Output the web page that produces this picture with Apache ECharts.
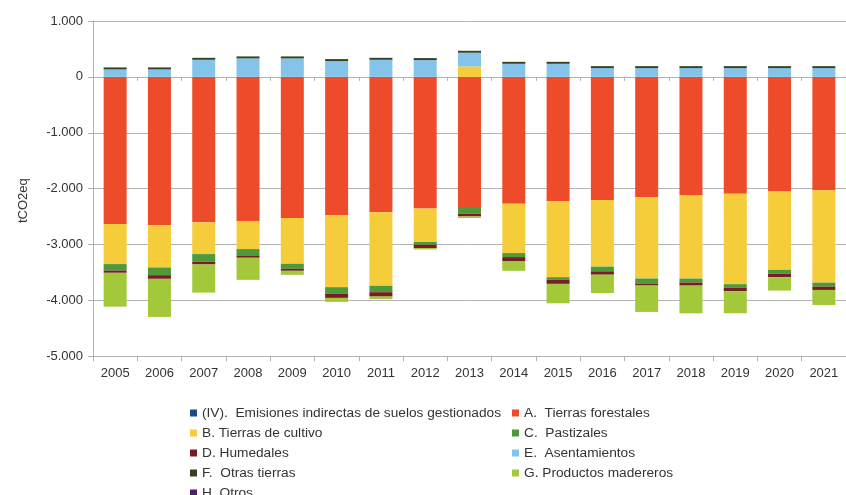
<!DOCTYPE html>
<html>
<head>
<meta charset="utf-8">
<script src="https://cdn.jsdelivr.net/npm/echarts@6/dist/echarts.min.js"></script>
<style>
html,body{margin:0;padding:0;background:#fff;}
#chart{width:846px;height:495px;}
</style>
</head>
<body>
<div id="chart"></div>
<script>
var years = ['2005','2006','2007','2008','2009','2010','2011','2012','2013','2014','2015','2016','2017','2018','2019','2020','2021'];
var yTicks = [-5000,-4000,-3000,-2000,-1000,0,1000];

var sIV = [0,0,0,0,0,0,0,0,0,0,0,0,0,0,0,0,0];
var sA  = [-2632,-2657,-2603,-2578,-2524,-2478,-2424,-2357,-2327,-2268,-2226,-2205,-2154,-2124,-2093,-2052,-2029];
var sB  = [-718,-754,-568,-503,-820,-1285,-1316,-598,187,-885,-1358,-1190,-1454,-1485,-1616,-1400,-1652];
var sC  = [-115,-137,-138,-115,-90,-115,-113,-48,-120,-72,-48,-85,-90,-72,-66,-72,-72];
var sD  = [-41,-66,-48,-41,-36,-77,-78,-60,-50,-78,-72,-60,-36,-54,-60,-60,-60];
var sE  = [134,134,306,331,331,283,306,301,245,234,234,157,157,157,157,157,157];
var sF  = [35,35,35,35,35,35,35,35,35,35,35,35,35,35,35,35,35];
var sG  = [-606,-682,-503,-395,-72,-72,-47,-25,-29,-167,-347,-328,-472,-496,-395,-240,-269];
var sH  = [0,0,0,0,0,0,0,0,0,0,0,0,0,0,0,0,0];

var names = ['(IV).  Emisiones indirectas de suelos gestionados','A.  Tierras forestales','B. Tierras de cultivo','C.  Pastizales','D. Humedales','E.  Asentamientos','F.  Otras tierras','G. Productos madereros','H. Otros'];
var colors = ['#1e4a8c','#ee4b2b','#f5cd3a','#4e9a3a','#7a1c24','#84c3ea','#34421f','#a3c83a','#4b1f6f'];
var values = [sIV,sA,sB,sC,sD,sE,sF,sG,sH];

function fmt(v){
  var s = Math.abs(v).toString();
  var out = s.replace(/\B(?=(\d{3})+(?!\d))/g, '.');
  return (v < 0 ? '-' : '') + out;
}

var FONT = 'Liberation Sans';
var series = values.map(function(arr, i){
  return {
    name: names[i], type: 'bar', stack: 'total', data: arr,
    xAxisIndex: 0, barWidth: 23,
    itemStyle: {color: colors[i]}
  };
});

var legendText = {color: '#333333', fontFamily: FONT, fontSize: 13.7, lineHeight: 14};

var chart = echarts.init(document.getElementById('chart'), null, {renderer:'canvas'});
chart.setOption({
  animation: false,
  backgroundColor: '#ffffff',
  color: colors,
  grid: {left: 93, top: 21, width: 760, height: 335.3, containLabel: false},
  xAxis: [{
    type: 'category', data: years, position: 'bottom',
    axisLine: {onZero: false, lineStyle: {color: '#b3b3b3', width: 1}},
    axisTick: {show: true, length: 5, lineStyle: {color: '#b3b3b3'}},
    axisLabel: {color: '#333333', fontFamily: FONT, fontSize: 13, margin: 11},
    splitLine: {show: false}
  },{
    type: 'category', data: years, position: 'bottom',
    axisLine: {show: true, onZero: true, lineStyle: {color: '#b3b3b3', width: 1}},
    axisTick: {show: true, length: 4, lineStyle: {color: '#b3b3b3'}},
    axisLabel: {show: false},
    splitLine: {show: false}
  }],
  yAxis: {
    type: 'value', min: yTicks[0], max: yTicks[yTicks.length-1], interval: 1000,
    name: 'tCO2eq', nameLocation: 'middle', nameGap: 63, nameRotate: 90,
    nameTextStyle: {color: '#333333', fontFamily: FONT, fontSize: 13, padding: [0, 24, 0, 0]},
    axisLine: {show: true, lineStyle: {color: '#b3b3b3', width: 1}},
    axisTick: {show: true, length: 5, lineStyle: {color: '#b3b3b3'}},
    axisLabel: {color: '#333333', fontFamily: FONT, fontSize: 13, margin: 10, formatter: fmt},
    splitLine: {show: true, lineStyle: {color: '#b3b3b3', width: 1}}
  },
  legend: [{
    orient: 'vertical', left: 185, top: 401, height: 160, width: 320,
    itemWidth: 7, itemHeight: 7, itemGap: 6, icon: 'rect',
    textStyle: legendText,
    data: [names[0], names[2], names[4], names[6], names[8]]
  },{
    orient: 'vertical', left: 507, top: 401, height: 160, width: 300,
    itemWidth: 7, itemHeight: 7, itemGap: 6, icon: 'rect',
    textStyle: legendText,
    data: [names[1], names[3], names[5], names[7]]
  }],
  series: series
});
</script>
</body>
</html>
